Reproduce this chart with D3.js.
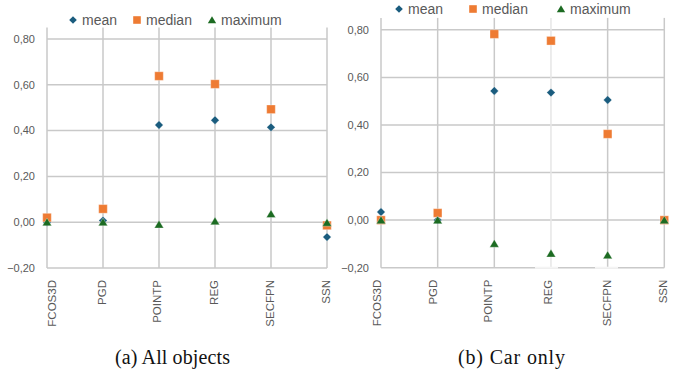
<!DOCTYPE html>
<html><head><meta charset="utf-8">
<script src="https://cdn.jsdelivr.net/npm/d3@7"></script>
<style>body{margin:0;background:#fff}svg{display:block}</style>
</head><body><svg id="c" width="683" height="372"></svg>
<script>
const categories = ["FCOS3D","PGD","POINTP","REG","SECFPN","SSN"];
const seriesNames = ["mean","median","maximum"];
const yTicks = [-0.2,0,0.2,0.4,0.6,0.8];
// Panel (a) All objects
const allMean    = [0.00, 0.007, 0.424, 0.445, 0.414, -0.065];
const allMedian  = [0.02, 0.058, 0.638, 0.603, 0.493, -0.014];
const allMaximum = [0.00, 0.00, -0.01, 0.004, 0.036, -0.002];
// Panel (b) Car only
const carMean    = [0.034, 0.00, 0.543, 0.536, 0.505, 0.00];
const carMedian  = [0.00, 0.03, 0.782, 0.754, 0.362, 0.00];
const carMaximum = [0.00, 0.00, -0.099, -0.140, -0.147, 0.00];
const captions = ["(a) All objects","(b) Car only"];

const colors = ["#1a5c7e","#ee7b33","#1c6b22"];
const gridColor = "#c9c9c9";
const textColor = "#595959";
const svg = d3.select("#c");

function markerPath(type, s){
  if(type===0){ return `M0,${-s}L${s},0L0,${s}L${-s},0Z`; }
  if(type===1){ return `M${-s},${-s}H${s}V${s}H${-s}Z`; }
  return `M0,${-s*1.0}L${s*1.1},${s*0.85}L${-s*1.1},${s*0.85}Z`;
}

const panels = [
  {x0:47, x1:327, yTop:27.5, yBot:268, series:[allMean,allMedian,allMaximum],
   legendY:20, legendX:[73,137,212], labelOff:[5,-1,-2,-1,-1,-1], cap:captions[0], capX:115, capW:115},
  {x0:381, x1:664.3, yTop:17.9, yBot:267.7, series:[carMean,carMedian,carMaximum],
   legendY:9, legendX:[399,473,561], labelOff:[-4,-5,-6,-3,-1,-1], cap:captions[1], capX:458, capW:107, lightCat:"REG",
   gaps:[[535,558],[595,618]]}
];

panels.forEach(p=>{
  const g = svg.append("g");
  const x = d3.scalePoint().domain(categories).range([p.x0,p.x1]).padding(0);
  const y = d3.scaleLinear().domain([-0.2,0.85]).range([p.yBot,p.yTop]);

  // horizontal grid
  g.selectAll(".hg").data(yTicks).join("line")
    .attr("x1",p.x0).attr("x2",p.x1).attr("y1",d=>y(d)).attr("y2",d=>y(d))
    .attr("stroke",gridColor).attr("stroke-width",1.5);
  // vertical grid
  g.selectAll(".vg").data(categories).join("line")
    .attr("x1",d=>x(d)).attr("x2",d=>x(d)).attr("y1",p.yTop).attr("y2",p.yBot)
    .attr("stroke",d=>d===p.lightCat?"#e6e6e6":gridColor).attr("stroke-width",1.5);
  if(p.gaps){
    p.gaps.forEach(gp=>g.append("line").attr("x1",gp[0]).attr("x2",gp[1])
      .attr("y1",p.yBot).attr("y2",p.yBot).attr("stroke","#f4f4f4").attr("stroke-width",2));
  }
  // y tick labels
  const fmt = d=>d3.format(".2f")(d).replace("-","-").replace(".",",");
  g.selectAll(".yl").data(yTicks).join("text")
    .attr("x",p.x0-12).attr("y",d=>y(d)).attr("dy","0.35em")
    .attr("text-anchor","end").attr("font-family","Liberation Sans, Arial, sans-serif")
    .attr("font-size",11).attr("fill",textColor).text(fmt);
  // x labels rotated
  g.selectAll(".xl").data(categories).join("text")
    .attr("transform",(d,i)=>`translate(${x(d)+p.labelOff[i]},${p.yBot+12}) rotate(-90)`)
    .attr("dy","0.35em").attr("text-anchor","end")
    .attr("font-family","Liberation Sans, Arial, sans-serif").attr("font-size",11.5)
    .attr("fill",textColor).text(d=>d);
  // markers
  p.series.forEach((vals,si)=>{
    g.selectAll(".m"+si).data(vals).join("path")
      .attr("transform",(d,i)=>`translate(${x(categories[i])},${y(d)})`)
      .attr("d",markerPath(si, si===0?4.2:(si===1?4.3:4.2)))
      .attr("fill",colors[si]).attr("stroke","#ffffff").attr("stroke-opacity",0.45).attr("stroke-width",0.7);
  });
  // legend
  seriesNames.forEach((n,si)=>{
    g.append("path").attr("transform",`translate(${p.legendX[si]},${p.legendY})`)
      .attr("d",markerPath(si, si===0?3.8:(si===1?3.8:3.8))).attr("fill",colors[si]);
    g.append("text").attr("x",p.legendX[si]+9).attr("y",p.legendY).attr("dy","0.36em")
      .attr("font-family","Liberation Sans, Arial, sans-serif").attr("font-size",14)
      .attr("fill",textColor).text(n);
  });
  // caption
  svg.append("text").attr("x",p.capX).attr("y",364)
    .attr("font-family","Liberation Serif, Times New Roman, serif").attr("font-size",20)
    .attr("fill","#111").attr("textLength",p.capW).attr("lengthAdjust","spacing").text(p.cap);
});
</script>
</body></html>
